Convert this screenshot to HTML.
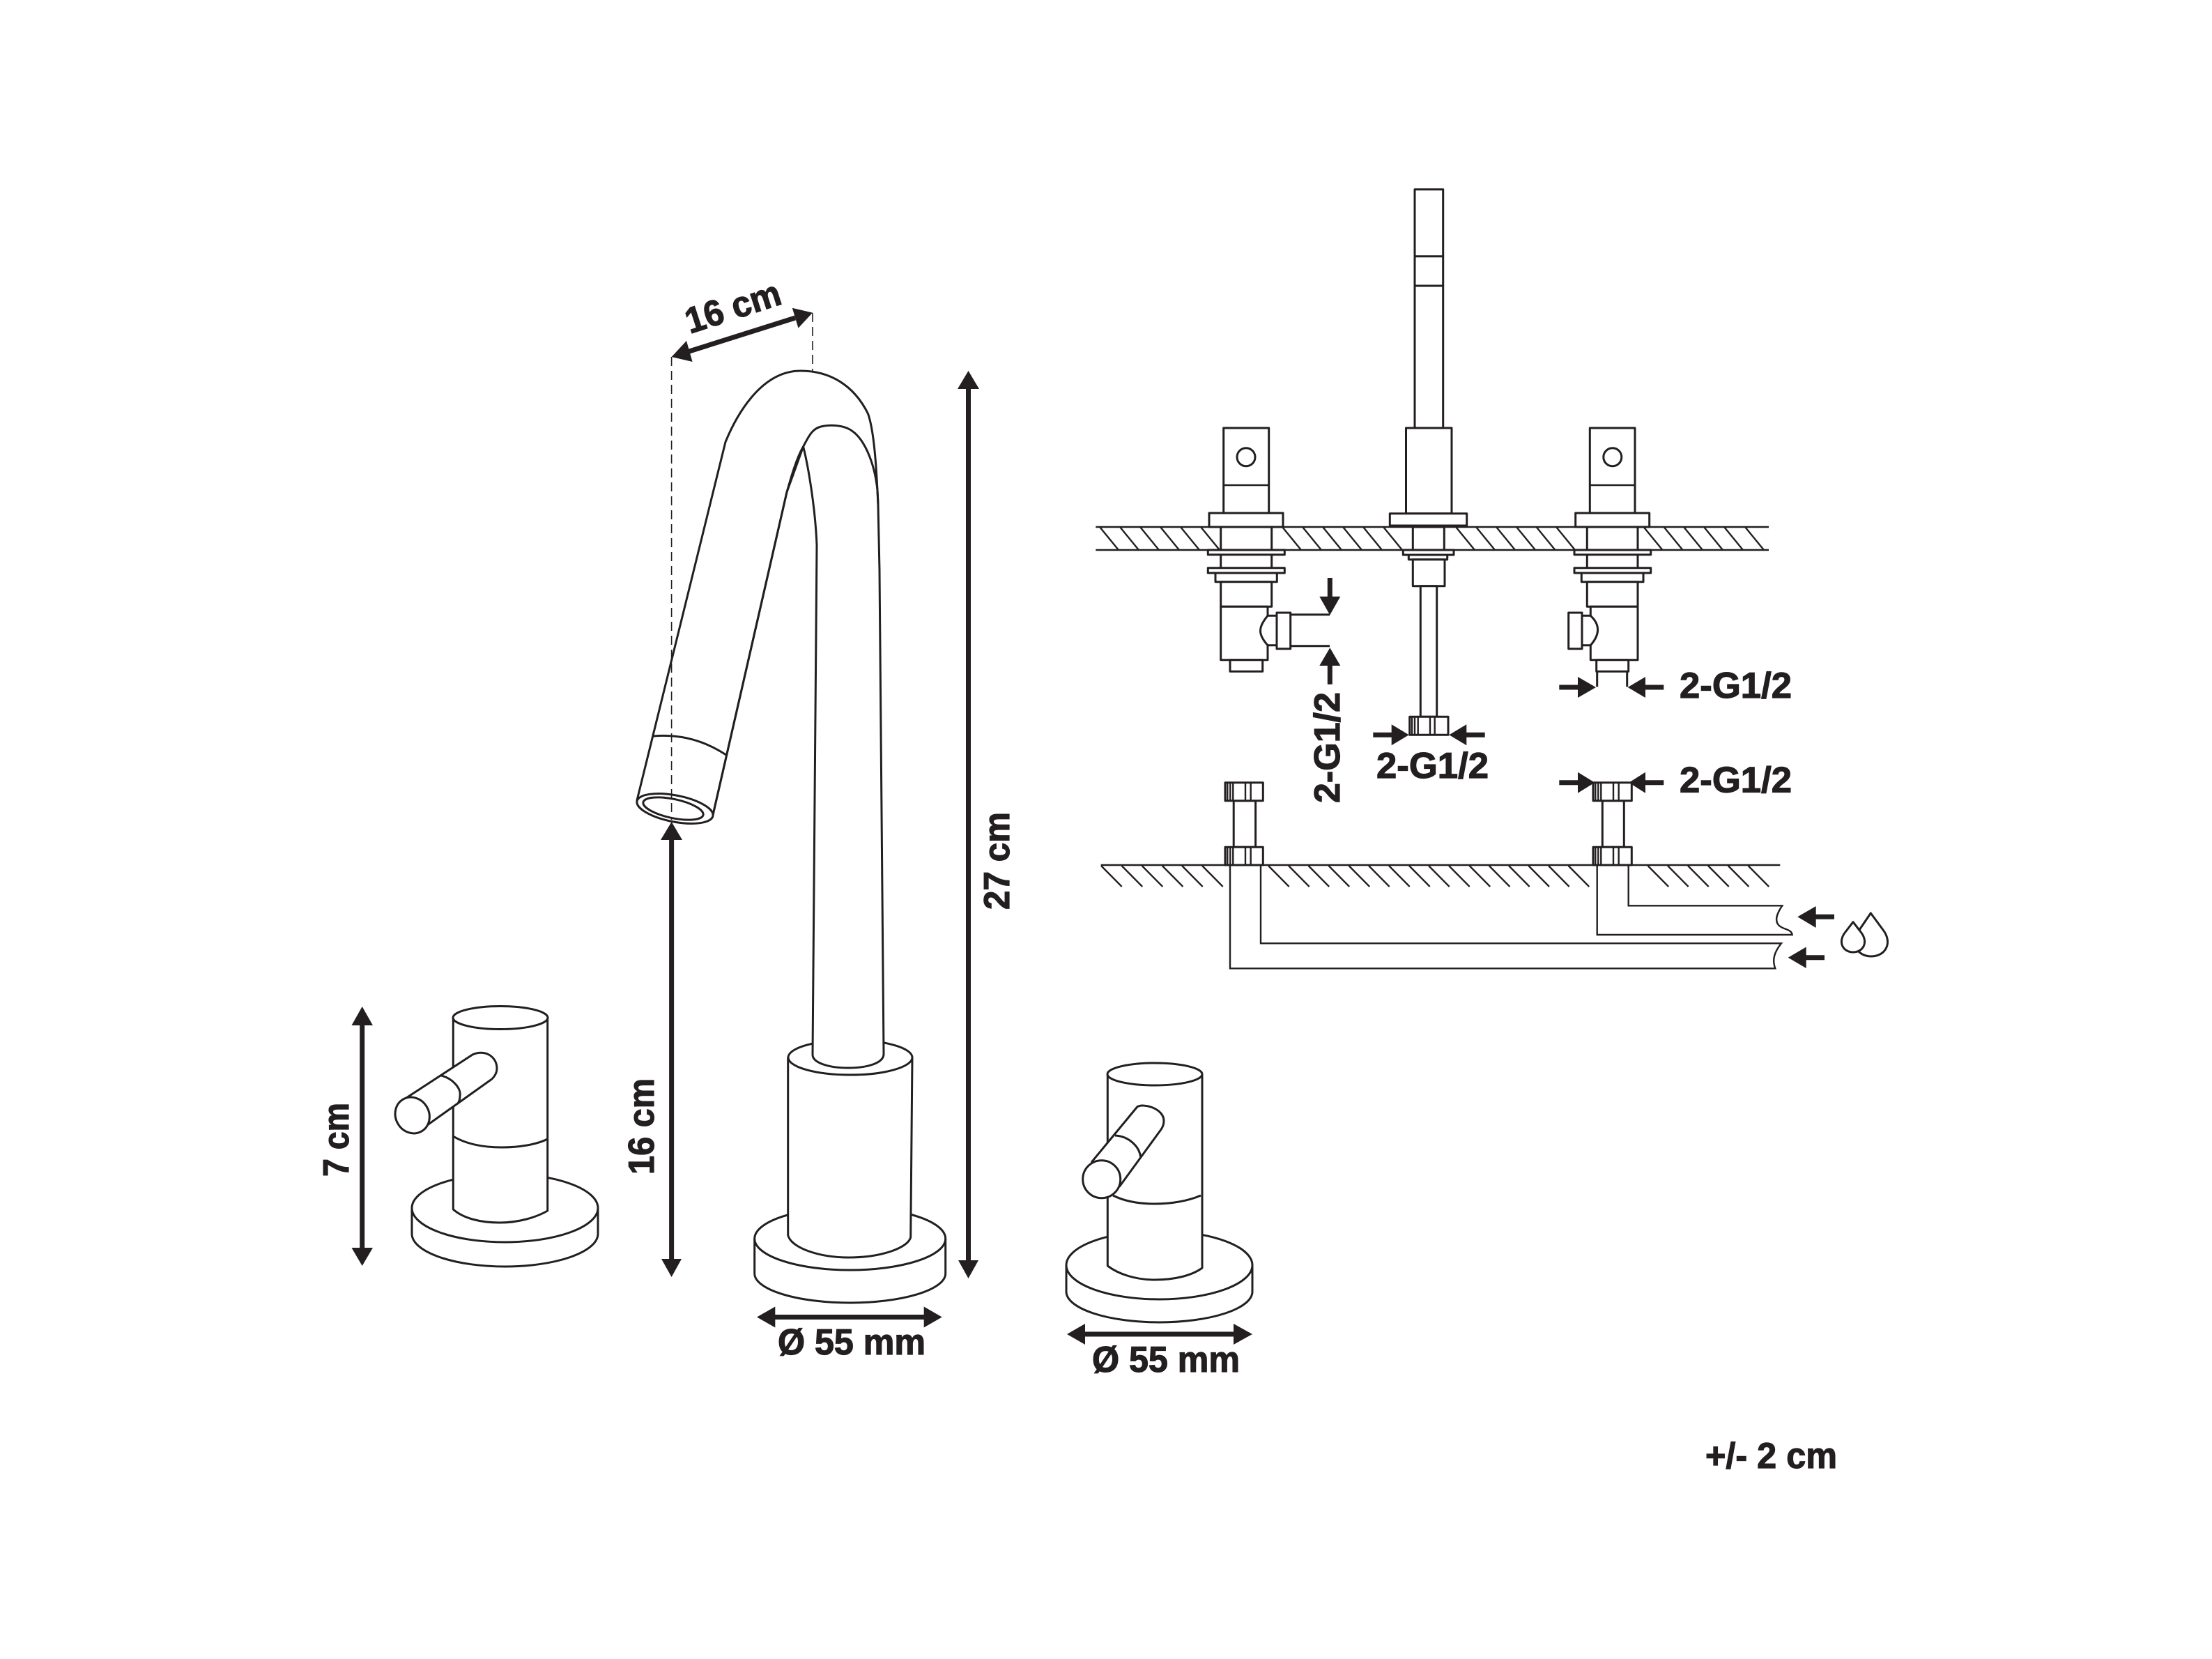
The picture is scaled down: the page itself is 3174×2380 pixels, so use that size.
<!DOCTYPE html>
<html><head><meta charset="utf-8"><title>Faucet dimensions</title>
<style>
html,body{margin:0;padding:0;background:#fff}
svg{display:block}
.l{fill:#fff;stroke:#231f20;stroke-width:3;stroke-linejoin:round}
.n{fill:none;stroke:#231f20;stroke-width:3;stroke-linejoin:round}
.h{fill:none;stroke:#231f20;stroke-width:2.4}
.a{fill:#231f20;stroke:none}
.s{stroke:#231f20;stroke-width:7;fill:none}
.d{stroke:#231f20;stroke-width:1.6;stroke-dasharray:13 7;fill:none}
text{font-family:"Liberation Sans",sans-serif;font-weight:700;fill:#231f20;font-size:52px;stroke:#231f20;stroke-width:1.2}
</style></head><body>
<svg xmlns="http://www.w3.org/2000/svg" width="3174" height="2380" viewBox="0 0 3174 2380">
<rect width="3174" height="2380" fill="#fff"/>

<!-- centre faucet -->
<ellipse class="l" cx="1219.7" cy="1777" rx="137" ry="45"/>
<path class="n" d="M1082.7 1777V1827A137 42 0 0 0 1356.7 1827V1777"/>
<path class="l" d="M1130.7 1517V1772C1135 1790 1175 1804 1218 1804C1265 1804 1303 1790 1306.7 1775L1309 1517Z"/>
<ellipse class="l" cx="1220" cy="1517" rx="89" ry="25"/>
<path class="l" d="M914 1148L1041 634C1055 600 1090 532 1149 532C1190 532 1225 552 1245.5 593.5C1255 620 1258 680 1260 724L1262 818L1268 1512C1268 1525 1245 1532 1217 1532C1190 1532 1166 1525 1166 1513L1168.4 1220L1172 782C1170 730 1160 670 1152.6 640.6L1129 706L1023 1169Z"/>
<path class="n" d="M1023 1169L1129 706C1135 685 1143 657 1152.6 640.6C1160 627 1165 615 1178 612C1190 609 1205 610 1215 614C1240 624 1255 665 1259 703L1260 724"/>
<path class="n" d="M938 1056C975 1053 1010 1062 1042 1083"/>
<ellipse class="l" cx="968.5" cy="1160" rx="55.5" ry="19" transform="rotate(11 968.5 1160)"/>
<ellipse class="l" cx="966" cy="1160" rx="44" ry="13.6" transform="rotate(12 966 1160)"/>
<path class="d" d="M963.6 512V1176M1166 449V532"/>

<!-- dims: spout -->
<path class="s" d="M989 504L1141 456"/>
<polygon class="a" points="963.6,512 993.6,519 985,489"/>
<polygon class="a" points="1166,448.6 1136.8,441.8 1145.5,470.6"/>
<text transform="translate(990 479) rotate(-18)" textLength="141" lengthAdjust="spacingAndGlyphs">16 cm</text>

<path class="s" d="M1389.5 555V1810"/>
<polygon class="a" points="1389.5,532 1405,558 1374,558"/>
<polygon class="a" points="1389.5,1834 1375,1808 1404,1808"/>
<text transform="translate(1448 1305) rotate(-90)" textLength="140" lengthAdjust="spacingAndGlyphs">27 cm</text>

<path class="s" d="M963.6 1200V1810"/>
<polygon class="a" points="963.6,1179 979,1205 948,1205"/>
<polygon class="a" points="963.6,1832 949,1806 978,1806"/>
<text transform="translate(938 1685) rotate(-90)" textLength="138" lengthAdjust="spacingAndGlyphs">16 cm</text>

<path class="s" d="M1108 1889.5H1330"/>
<polygon class="a" points="1086,1889.5 1112.3,1874.5 1112.3,1904.5"/>
<polygon class="a" points="1351.7,1889.5 1325.7,1874.5 1325.7,1904.5"/>
<text x="1116" y="1943" textLength="212" lengthAdjust="spacingAndGlyphs">Ø 55 mm</text>

<!-- left handle -->
<path class="s" d="M519.7 1465V1795"/>
<polygon class="a" points="519.7,1444 535,1471 504.5,1471"/>
<polygon class="a" points="519.7,1816 504.5,1790 535,1790"/>
<text transform="translate(500 1688) rotate(-90)" textLength="106" lengthAdjust="spacingAndGlyphs">7 cm</text>
<ellipse class="l" cx="724.5" cy="1733" rx="133.5" ry="49"/>
<path class="n" d="M591 1733V1770A133.5 47 0 0 0 858 1770V1733"/>
<path class="l" d="M650.3 1460V1735C665 1748 690 1754 717 1754C745 1754 770 1746 785.7 1737V1460Z"/>
<ellipse class="l" cx="718" cy="1460" rx="68" ry="16.5"/>
<path class="n" d="M650 1630C670 1642 695 1646 720 1646C745 1646 770 1642 785.7 1634"/>
<path class="l" d="M583 1575L678 1513C695 1505 713 1515 713 1533C713 1540 708 1547 703 1550L602 1622Z"/>
<path class="n" d="M633 1543C650 1547 662 1562 660 1572C660 1577 659 1580 657 1583"/>
<ellipse class="l" cx="591.7" cy="1600" rx="24" ry="26.5" transform="rotate(-30 591.7 1600)"/>

<!-- right handle -->
<ellipse class="l" cx="1663.5" cy="1815" rx="133.5" ry="49"/>
<path class="n" d="M1530 1815V1853A133.5 44 0 0 0 1797 1853V1815"/>
<path class="l" d="M1589.3 1541V1816C1605 1828 1630 1836 1657 1836C1685 1836 1710 1830 1725 1819V1541Z"/>
<ellipse class="l" cx="1657" cy="1541" rx="68" ry="16"/>
<path class="n" d="M1597 1715C1615 1724 1635 1727 1657 1727C1680 1727 1705 1723 1723 1715"/>
<path class="l" d="M1566.7 1666.7L1631.7 1588C1640 1582 1670 1590 1670 1608C1670 1613 1668 1618 1665 1621.7L1606.7 1701.7Z"/>
<path class="n" d="M1600 1629C1620 1630 1635 1645 1636.7 1660"/>
<circle class="l" cx="1580.7" cy="1691.7" r="27"/>
<path class="s" d="M1550 1914H1775"/>
<polygon class="a" points="1531,1914 1557,1899 1557,1929"/>
<polygon class="a" points="1797,1914 1770,1899 1770,1929"/>
<text x="1567" y="1968" textLength="212" lengthAdjust="spacingAndGlyphs">Ø 55 mm</text>

<text x="2447" y="2106" textLength="189" lengthAdjust="spacingAndGlyphs">+/- 2 cm</text>

<!-- deck -->
<path class="h" d="M1572.3 756H2538M1572.3 789H2538"/>
<path class="h" d="M1578 756l27 33M1607 756l27 33M1636 756l27 33M1665 756l27 33M1694 756l27 33M1723 756l27 33
M1840 756l27 33M1869 756l27 33M1898 756l27 33M1927 756l27 33M1956 756l27 33M1985 756l27 33
M2089 756l27 33M2118 756l27 33M2147 756l27 33M2176 756l27 33M2204.5 756l27 33M2233 756l27 33
M2358.5 756l27 33M2387.5 756l27 33M2416 756l27 33M2445 756l27 33M2474 756l27 33M2504 756l27 33"/>

<!-- left valve -->
<rect class="l" x="1755.7" y="614" width="65" height="122"/>
<path class="h" d="M1755.7 696H1820.7"/>
<circle class="n" cx="1788" cy="655.7" r="13"/>
<rect class="l" x="1735" y="736" width="106" height="20"/>
<rect class="l" x="1751.7" y="756" width="73" height="78"/>
<rect class="l" x="1733.3" y="789" width="110" height="6.7"/>
<rect class="l" x="1733.3" y="814.7" width="110" height="7.3"/>
<rect class="l" x="1744" y="822" width="88.3" height="12.7"/>
<rect class="l" x="1751.7" y="834.7" width="73" height="35.6"/>
<path class="l" d="M1751.7 870.3H1819V883.3C1805 900 1805 910 1819 925.7V946.7H1751.7Z"/>
<rect class="l" x="1765" y="946.7" width="46.7" height="16.6"/>
<path class="n" d="M1819 883.3H1832M1819 925.7H1832"/>
<rect class="l" x="1832" y="879" width="19.7" height="51.7"/>
<path class="n" d="M1851.7 881.7H1908M1851.7 926.7H1908"/>
<path class="s" d="M1908.3 829V860M1908.3 950V981.7"/>
<polygon class="a" points="1908.3,882.3 1893.3,855.7 1923.3,855.7"/>
<polygon class="a" points="1908.3,929.3 1893.3,955 1923.3,955"/>
<text transform="translate(1922 1152) rotate(-90)" textLength="159" lengthAdjust="spacingAndGlyphs">2-G1/2</text>

<!-- centre stem -->
<rect class="l" x="2030" y="271.7" width="40.7" height="342.3"/>
<path class="n" d="M2030 367.7H2070.7M2030 410H2070.7"/>
<rect class="l" x="2017.5" y="614" width="65.5" height="122.7"/>
<rect class="l" x="1994.3" y="736.7" width="110.4" height="17.3"/>
<rect class="l" x="2027.3" y="756" width="45" height="33"/>
<rect class="l" x="2013.3" y="789" width="72.7" height="7"/>
<rect class="l" x="2021.3" y="796" width="55.4" height="6.7"/>
<rect class="l" x="2027.3" y="802.7" width="45.7" height="38"/>
<rect class="l" x="2038.3" y="840.7" width="23.4" height="187.6"/>
<rect class="l" x="2022.7" y="1028.3" width="55.3" height="26"/>
<path class="h" d="M2026 1028.3V1054.3M2030 1028.3V1054.3M2034.7 1028.3V1054.3M2052 1028.3V1054.3M2058.7 1028.3V1054.3"/>
<path class="s" d="M1970.3 1054.3H2000M2100 1054.3H2130.7"/>
<polygon class="a" points="2021.7,1054.3 1996.7,1039.3 1996.7,1069.3"/>
<polygon class="a" points="2079.3,1054.3 2104.3,1039.3 2104.3,1069.3"/>
<text x="1975" y="1116" textLength="161" lengthAdjust="spacingAndGlyphs">2-G1/2</text>

<!-- right valve -->
<rect class="l" x="2281.3" y="614" width="64.7" height="122"/>
<path class="h" d="M2281.3 696H2346"/>
<circle class="n" cx="2313.8" cy="655.7" r="13"/>
<rect class="l" x="2260.7" y="736" width="106" height="20"/>
<rect class="l" x="2277.3" y="756" width="72.7" height="78"/>
<rect class="l" x="2259" y="789" width="109.7" height="6.7"/>
<rect class="l" x="2259" y="814.7" width="109.7" height="7.3"/>
<rect class="l" x="2269.3" y="822" width="88.7" height="12.7"/>
<rect class="l" x="2277.3" y="834.7" width="72.7" height="35.6"/>
<path class="l" d="M2282.3 870.3H2350V946.7H2282.3V925.7C2296 910 2296 896 2282.3 883.3Z"/>
<path class="n" d="M2270 883.3H2282.3M2270 925.7H2282.3"/>
<rect class="l" x="2250.7" y="879" width="19.3" height="51.7"/>
<rect class="l" x="2290.7" y="946.7" width="46" height="16.6"/>
<path class="n" d="M2291.7 963.3V985.3M2334.7 963.3V985.3"/>
<path class="s" d="M2237.3 986H2268M2358 986H2387.3"/>
<polygon class="a" points="2290,986 2264,971 2264,1001"/>
<polygon class="a" points="2335.7,986 2361,971 2361,1001"/>
<text x="2410" y="1001" textLength="161" lengthAdjust="spacingAndGlyphs">2-G1/2</text>

<!-- ground -->
<path class="h" d="M1579.7 1241H2554.3"/>
<path class="h" d="M1580 1242l29.7 30M1609.5 1242l29.7 30M1638.6 1242l29.7 30M1667.7 1242l29.7 30M1696 1242l29.7 30M1725 1242l29.7 30
M1820 1242l29.7 30M1849 1242l29.7 30M1877.5 1242l29.7 30M1906.5 1242l29.7 30M1935.5 1242l29.7 30M1964 1242l29.7 30M1993 1242l29.7 30M2022 1242l29.7 30M2050 1242l29.7 30M2079 1242l29.7 30M2108.5 1242l29.7 30M2136.7 1242l29.7 30M2165 1242l29.7 30M2193.3 1242l29.7 30M2222 1242l29.7 30M2250.5 1242l29.7 30
M2364.5 1242l29.7 30M2393 1242l29.7 30M2422 1242l29.7 30M2451 1242l29.7 30M2479.7 1242l29.7 30M2508.5 1242l29.7 30"/>

<!-- left pillar -->
<rect class="l" x="1770.2" y="1148.7" width="31.4" height="66.6"/>
<rect class="l" x="1758" y="1122.7" width="54.3" height="26"/>
<rect class="l" x="1758" y="1215.3" width="54.3" height="25.7"/>
<path class="h" d="M1761.3 1122.7V1148.7M1765.3 1122.7V1148.7M1769.3 1122.7V1148.7M1787 1122.7V1148.7M1794.7 1122.7V1148.7M1761.3 1215.3V1241M1765.3 1215.3V1241M1769.3 1215.3V1241M1787 1215.3V1241M1794.7 1215.3V1241"/>

<!-- right pillar -->
<rect class="l" x="2299.3" y="1148.7" width="31" height="66.6"/>
<rect class="l" x="2286" y="1122.7" width="55.3" height="26"/>
<rect class="l" x="2286" y="1215.3" width="55.3" height="25.7"/>
<path class="h" d="M2289.3 1122.7V1148.7M2293.3 1122.7V1148.7M2297.3 1122.7V1148.7M2315 1122.7V1148.7M2322.7 1122.7V1148.7M2289.3 1215.3V1241M2293.3 1215.3V1241M2297.3 1215.3V1241M2315 1215.3V1241M2322.7 1215.3V1241"/>
<path class="s" d="M2237.3 1122.7H2268M2358 1122.7H2387.3"/>
<polygon class="a" points="2288.3,1122.7 2264,1107.7 2264,1137.7"/>
<polygon class="a" points="2337.3,1122.7 2361,1107.7 2361,1137.7"/>
<text x="2410" y="1136.7" textLength="161" lengthAdjust="spacingAndGlyphs">2-G1/2</text>

<!-- pipes -->
<path class="h" d="M2291.7 1241V1341H2571.7C2570 1332 2558 1334 2552 1327C2546 1320 2550 1310 2557.3 1299.3H2336.7V1241"/>
<path class="h" d="M1765 1241V1389.3H2547.3C2543 1378 2545 1367 2556 1353.3H1809V1241"/>
<path class="s" d="M2600 1315.3H2632M2586 1373.7H2618"/>
<polygon class="a" points="2579.3,1315.3 2605.7,1300 2605.7,1331"/>
<polygon class="a" points="2565.7,1373.7 2591.7,1358.5 2591.7,1389"/>

<!-- drops -->
<path class="l" d="M2684.3 1310L2702 1334C2716 1352 2706 1372 2685 1372C2664 1372 2654 1352 2668 1334Z"/>
<path class="l" d="M2659 1322.7L2670 1337C2682 1352 2673 1366 2659 1366C2645 1366 2636 1352 2648 1337Z"/>
</svg>
</body></html>
